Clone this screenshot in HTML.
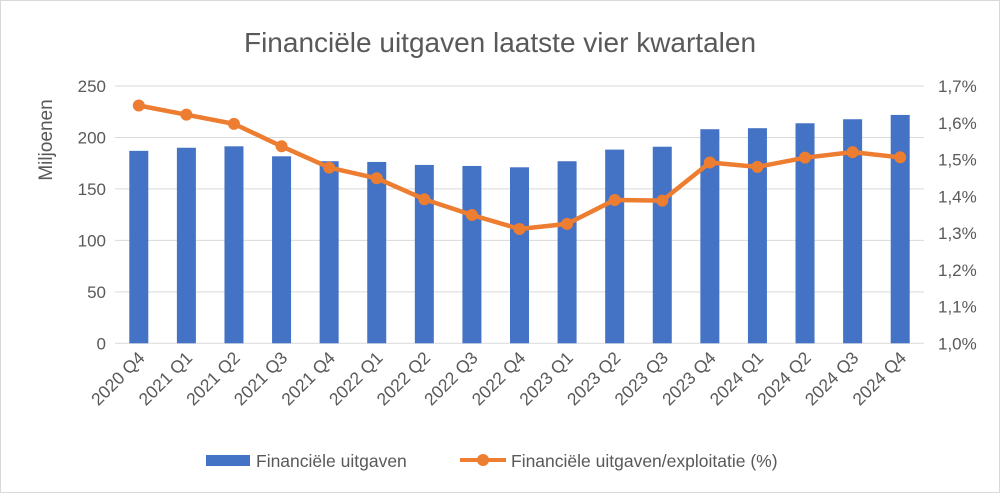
<!DOCTYPE html>
<html><head><meta charset="utf-8"><style>
body{margin:0;background:#fff}
svg{display:block;font-family:"Liberation Sans",sans-serif}
</style></head><body>
<svg id="chart" width="1000" height="493" viewBox="0 0 1000 493">
<rect x="0.5" y="0.5" width="999" height="492" fill="#fff" stroke="#d9d9d9"/>
<text x="500" y="52" text-anchor="middle" font-size="28" fill="#595959">Financiële uitgaven laatste vier kwartalen</text>
<text transform="translate(52,140) rotate(-90)" text-anchor="middle" font-size="19" fill="#595959">Miljoenen</text>
<g id="grid"></g><g id="bars"></g><g id="line"></g><g id="xlabels"></g><g id="yl"></g><g id="yr"></g>
<g>
<rect x="206" y="455" width="44" height="11" fill="#4472c4"/>
<text x="256" y="467" font-size="17.5" fill="#595959">Financiële uitgaven</text>
<line x1="460" y1="460" x2="506" y2="460" stroke="#ed7d31" stroke-width="4"/>
<circle cx="483" cy="460" r="6" fill="#ed7d31"/>
<text x="511" y="467" font-size="17.5" fill="#595959">Financiële uitgaven/exploitatie (%)</text>
</g>
</svg>
<script>
const categories=["2020 Q4","2021 Q1","2021 Q2","2021 Q3","2021 Q4","2022 Q1","2022 Q2","2022 Q3","2022 Q4","2023 Q1","2023 Q2","2023 Q3","2023 Q4","2024 Q1","2024 Q2","2024 Q3","2024 Q4"];
const spending=[187,190,191.4,181.7,176.9,176.2,173.3,172.3,171,176.9,188.2,191,208,209,213.8,217.7,221.9];
const ratioPct=[1.647,1.622,1.597,1.536,1.478,1.449,1.392,1.349,1.311,1.325,1.390,1.388,1.492,1.480,1.505,1.520,1.506];
const leftTicks=[0,50,100,150,200,250];
const rightTicks=[1.0,1.1,1.2,1.3,1.4,1.5,1.6,1.7];
const NS="http://www.w3.org/2000/svg";
const X0=115,X1=924,Y0=343.3,Y1=86;
const cw=(X1-X0)/categories.length;
const xc=i=>X0+cw*(i+0.5);
const yL=v=>Y0-(v/250)*(Y0-Y1);
const yR=v=>Y0-((v-1.0)/0.7)*(Y0-Y1);
function mk(t,a,p){const e=document.createElementNS(NS,t);for(const k in a)e.setAttribute(k,a[k]);p.appendChild(e);return e;}
const g=document.getElementById('grid'),b=document.getElementById('bars'),l=document.getElementById('line'),xl=document.getElementById('xlabels'),yl=document.getElementById('yl'),yr=document.getElementById('yr');
leftTicks.forEach(v=>{
 const ln=mk('line',{x1:X0,x2:X1,y1:yL(v),y2:yL(v),stroke:'#d9d9d9','stroke-width':1},g);
 
 
 const t=mk('text',{x:106,y:yL(v)+6,'text-anchor':'end','font-size':17,fill:'#595959'},yl);
 t.textContent=v;
 
 
});
rightTicks.forEach(v=>{
 const t=mk('text',{x:938,y:yR(v)+6,'font-size':17,fill:'#595959'},yr);
 t.textContent=v.toFixed(1).replace('.',',')+'%';
 
 
});
spending.forEach((v,i)=>{
 const r=mk('rect',{x:xc(i)-9.5,y:yL(v),width:19,height:Y0-yL(v),fill:'#4472c4'},b);
 
 
});
const pts=ratioPct.map((v,i)=>xc(i)+','+yR(v)).join(' ');
const pl=mk('polyline',{points:pts,fill:'none',stroke:'#ed7d31','stroke-width':4.5,'stroke-linejoin':'round'},l);


ratioPct.forEach((v,i)=>{
 const c=mk('circle',{cx:xc(i),cy:yR(v),r:6,fill:'#ed7d31'},l);
 
 
});
categories.forEach((c,i)=>{
 const t=mk('text',{transform:`translate(${xc(i)+7},359) rotate(-45)`,'text-anchor':'end','font-size':17.5,fill:'#595959'},xl);
 t.textContent=c;
 
 
});
</script>
</body></html>
